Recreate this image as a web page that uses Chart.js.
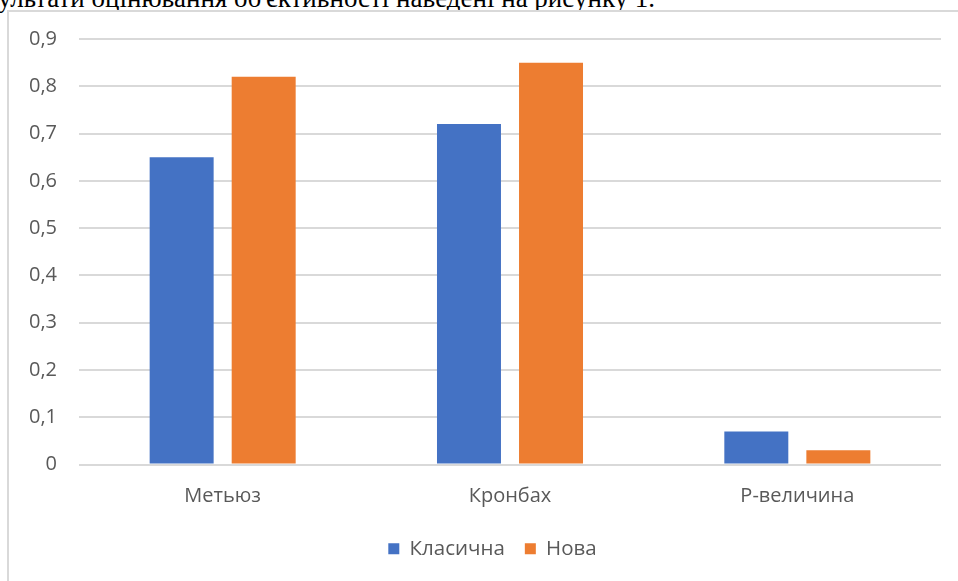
<!DOCTYPE html>
<html><head><meta charset="utf-8">
<script src="https://cdn.jsdelivr.net/npm/chart.js@4"></script>
<style>
html,body{margin:0;padding:0;width:958px;height:581px;overflow:hidden;background:#fff;}
#cap{position:absolute;left:-2px;top:-15px;font-family:"Liberation Serif","Times New Roman",serif;font-size:27px;color:#000;white-space:nowrap;line-height:27px;}
#frame{position:absolute;left:7px;top:10px;width:1000px;height:700px;border:2px solid #d9d9d9;box-sizing:border-box;background:#fff;}
#wrap{position:absolute;left:0;top:0;width:958px;height:581px;}
</style></head><body>
<div id="cap">ультати оцінювання об'єктивності наведені на рисунку 1.</div>
<div id="frame"></div>
<div id="wrap"><canvas id="c" width="958" height="581"></canvas></div>
<script>
const categories = ['Метьюз', 'Кронбах', 'P-величина'];
const seriesNames = ['Класична', 'Нова'];
const classicValues = [0.65, 0.72, 0.07];
const newValues = [0.82, 0.85, 0.03];
const yTickLabels = ['0', '0,1', '0,2', '0,3', '0,4', '0,5', '0,6', '0,7', '0,8', '0,9'];

const font = {family: '"Open Sans", "Noto Sans", sans-serif', size: 20};
const legendFont = {family: '"Open Sans", "Noto Sans", sans-serif', size: 20.5};
const shiftLegend = {
  id: 'shiftLegend',
  afterLayout(chart) {
    const l = chart.legend;
    if (l) { l.left += 22; l.right += 22; }
  }
};
new Chart(document.getElementById('c'), {
  type: 'bar',
  data: {
    labels: categories,
    datasets: [
      {label: seriesNames[0], data: classicValues, backgroundColor: '#4472C4', categoryPercentage: 0.571, barPercentage: 0.78},
      {label: seriesNames[1], data: newValues, backgroundColor: '#ED7D31', categoryPercentage: 0.571, barPercentage: 0.78}
    ]
  },
  plugins: [shiftLegend],
  options: {
    responsive: false,
    animation: false,
    layout: {padding: {left: 0, right: 17, top: 39, bottom: 12}},
    plugins: {
      tooltip: {enabled: false},
      legend: {
        position: 'bottom',
        labels: {boxWidth: 11, boxHeight: 11, color: '#595959', font: legendFont, padding: 20}
      }
    },
    scales: {
      x: {
        grid: {display: false, drawTicks: false},
        border: {display: false},
        ticks: {color: '#595959', font: font, padding: 20},
        afterFit: s => { s.height = 54; }
      },
      y: {
        min: 0, max: 0.9,
        ticks: {stepSize: 0.1, color: '#595959', font: font, padding: 22,
          callback: (v, i) => yTickLabels[i]},
        grid: {color: '#d9d9d9', lineWidth: 2, drawTicks: false},
        border: {display: false},
        afterFit: s => { s.width = 79; }
      }
    }
  }
});
</script>
</body></html>
